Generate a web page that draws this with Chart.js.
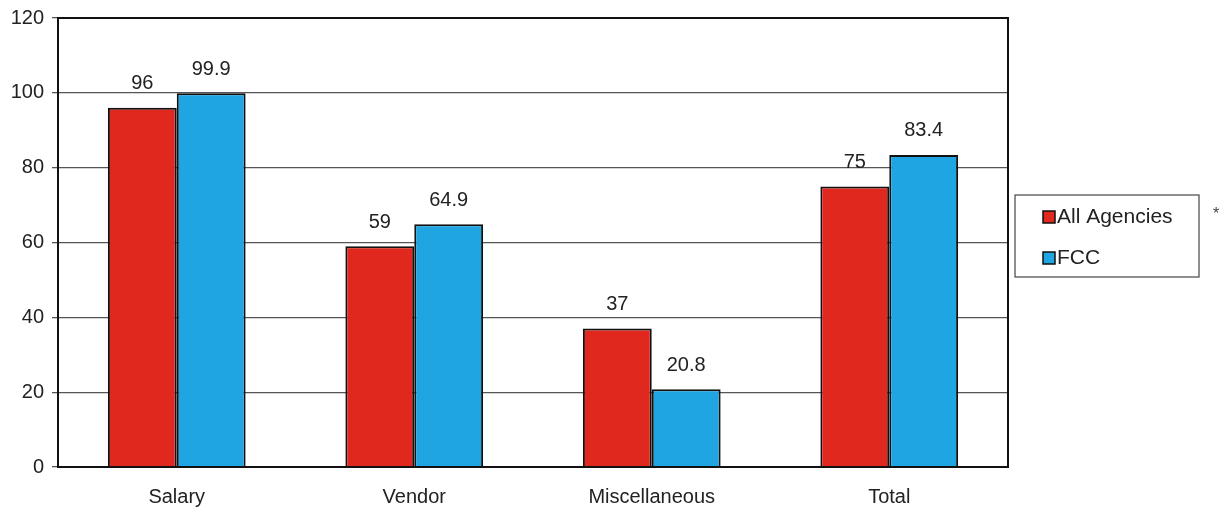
<!DOCTYPE html>
<html lang="en">
<head>
  <meta charset="UTF-8" />
  <title>All Agencies vs FCC</title>
  <script src="https://cdn.jsdelivr.net/npm/chart.js"></script>
  <style>
    body {
      margin: 0;
      background: #fff;
    }
    .wrap {
      position: relative;
      width: 1222px;
      height: 512px;
    }
  </style>
</head>
<body>

<div class="wrap">
  <canvas id="chart"></canvas>
</div>

<script>
  // data
  const categories = ['Salary', 'Vendor', 'Miscellaneous', 'Total'];
  const allAgencies = [96, 59, 37, 75];
  const fcc = [99.9, 64.9, 20.8, 83.4];
  const seriesNames = ['All Agencies', 'FCC'];
  const yTicks = [0, 20, 40, 60, 80, 100, 120];

  const RED = '#e0281f';
  const BLUE = '#1fa6e2';
  const FONT = 'Arial, "Liberation Sans", sans-serif';

  // values above bars
  const valueLabels = {
    id: 'valueLabels',
    afterDatasetsDraw(chart) {
      const ctx = chart.ctx;
      ctx.save();
      ctx.font = '20px ' + FONT;
      ctx.fillStyle = '#222';
      ctx.textAlign = 'center';
      ctx.textBaseline = 'bottom';
      chart.data.datasets.forEach((ds, i) => {
        chart.getDatasetMeta(i).data.forEach((bar, j) => {
          ctx.fillText(String(ds.data[j]), bar.x, bar.y - 14);
        });
      });
      ctx.restore();
    }
  };

  // frame around plot + boxed legend on the right
  const frameAndLegend = {
    id: 'frameAndLegend',
    afterDraw(chart) {
      const ctx = chart.ctx;
      const a = chart.chartArea;
      ctx.save();
      ctx.strokeStyle = '#111';
      ctx.lineWidth = 2;
      ctx.strokeRect(a.left, a.top, a.right - a.left, a.bottom - a.top);

      // legend box
      const lx = 1015, ly = 195, lw = 184, lh = 82;
      ctx.lineWidth = 1.2;
      ctx.strokeStyle = '#444';
      ctx.strokeRect(lx, ly, lw, lh);
      ctx.font = '21px ' + FONT;
      ctx.textBaseline = 'middle';
      ctx.textAlign = 'left';
      chart.data.datasets.forEach((ds, i) => {
        const y = ly + 22 + i * 41;
        ctx.fillStyle = ds.backgroundColor;
        ctx.fillRect(lx + 28, y - 6, 12, 12);
        ctx.strokeStyle = '#111';
        ctx.lineWidth = 1.5;
        ctx.strokeRect(lx + 28, y - 6, 12, 12);
        ctx.fillStyle = '#222';
        ctx.fillText(ds.label, lx + 42, y);
      });

      // stray asterisk beside the legend
      ctx.font = '16px ' + FONT;
      ctx.fillStyle = '#444';
      ctx.textAlign = 'center';
      ctx.fillText('*', 1216, 215);
      ctx.restore();
    }
  };

  new Chart(document.getElementById('chart'), {
    type: 'bar',
    data: {
      labels: categories,
      datasets: [
        { label: seriesNames[0], data: allAgencies, backgroundColor: RED },
        { label: seriesNames[1], data: fcc, backgroundColor: BLUE }
      ]
    },
    options: {
      responsive: true,
      maintainAspectRatio: false,
      animation: false,
      layout: { padding: { top: 18, right: 214, left: 0, bottom: 0 } },
      datasets: {
        bar: {
          borderColor: '#111',
          borderWidth: 2,
          barPercentage: 1,
          categoryPercentage: 0.58
        }
      },
      plugins: {
        legend: { display: false },
        tooltip: { enabled: false }
      },
      scales: {
        x: {
          grid: { display: false },
          border: { display: false },
          ticks: { color: '#222', font: { size: 20, family: FONT }, padding: 10 },
          afterFit(scale) { scale.height = 45; }
        },
        y: {
          min: 0,
          max: 120,
          afterBuildTicks(scale) { scale.ticks = yTicks.map(v => ({ value: v })); },
          grid: { color: '#555', lineWidth: 1.3, tickLength: 6 },
          border: { display: false },
          ticks: { color: '#222', font: { size: 20, family: FONT, lineHeight: 1 }, padding: 8 },
          afterFit(scale) {
            scale.width = 58;
            scale.paddingTop = 0;
          }
        }
      }
    },
    plugins: [valueLabels, frameAndLegend]
  });
</script>

</body>
</html>
